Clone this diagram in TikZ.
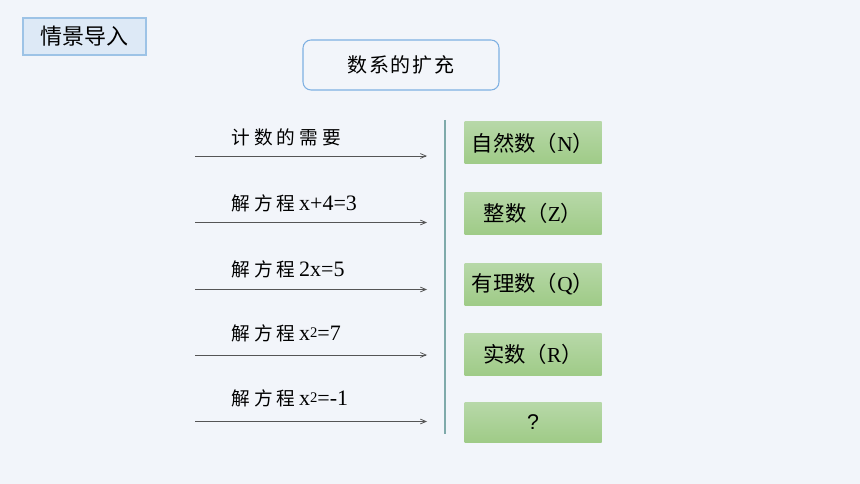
\documentclass[tikz,border=0pt]{standalone}
\usepackage{fontspec}
\setmainfont{Liberation Serif}
\newfontfamily\cjk{Noto Sans CJK SC}
\newfontfamily\cjkwide[LetterSpace=22]{Noto Sans CJK SC}
\newfontfamily\cjktopic[LetterSpace=8]{Noto Sans CJK SC}
\newfontfamily\qfont{Liberation Sans}
\definecolor{paper}{HTML}{F2F5FA}
\definecolor{titlefill}{HTML}{DDE9F6}
\definecolor{titleline}{HTML}{9DC3E6}
\definecolor{headline}{HTML}{7EB0E2}
\definecolor{greentop}{HTML}{B7D8A8}
\definecolor{greenbot}{HTML}{9FCB87}
\definecolor{divider}{HTML}{7FAAAA}
\definecolor{arrowgrey}{HTML}{555555}
\usepackage{tikz}
\usetikzlibrary{arrows}
\usetikzlibrary{positioning}
\tikzstyle{base}=[x=0.75pt, y=-0.75pt]
\tikzstyle{need}=[anchor=west, inner sep=0pt, font=\fontsize{16.5}{18}\selectfont]
\tikzstyle{reason}=[arrowgrey, line width=0.6pt, ->, >=angle 45]
\tikzstyle{numset}=[inner sep=0pt, minimum width=102.75pt, minimum height=31.5pt,
    top color=greentop, bottom color=greenbot, font=\fontsize{16}{18}\selectfont]
\newcommand*{\solve}{{\fontsize{14}{16}\cjkwide 解方程}}
\newcommand*{\sq}{\raisebox{0.25ex}{\fontsize{11}{12}\selectfont 2}}

\begin{document}
\begin{tikzpicture}[base]
    \fill [paper] (0,0) rectangle (860,484);
    \useasboundingbox (0,0) rectangle (860,484);
    % headings
    \node (title) [draw=titleline, fill=titlefill, line width=0.8pt, inner sep=0pt,
        minimum width=92.25pt, minimum height=27.75pt,
        font=\fontsize{16.5}{18}\selectfont] at (84.5,36.5) {\cjk 情景导入};
    \node (topic) [draw=headline, line width=0.8pt, rounded corners=6pt, inner sep=0pt,
        minimum width=147pt, minimum height=37.5pt,
        font=\fontsize{15}{17}\selectfont] at (401,65) {\cjktopic 数系的扩充};
    % reasons
    \coordinate (s1) at (195,156);   \coordinate (e1) at (427,156);
    \coordinate (s2) at (195,222.5); \coordinate (e2) at (427,222.5);
    \coordinate (s3) at (195,289.5); \coordinate (e3) at (427,289.5);
    \coordinate (s4) at (195,355);   \coordinate (e4) at (427,355);
    \coordinate (s5) at (195,421.5); \coordinate (e5) at (427,421.5);
    \draw [reason] (s1) -- (e1);
    \draw [reason] (s2) -- (e2);
    \draw [reason] (s3) -- (e3);
    \draw [reason] (s4) -- (e4);
    \draw [reason] (s5) -- (e5);
    \node (count) [need] at (231,137) {\fontsize{14}{16}\cjkwide 计数的需要};
    \node (eqa) [need] at (231,203) {\solve\,x+4=3};
    \node (eqb) [need] at (231,269) {\solve\,2x=5};
    \node (eqc) [need] at (231,333) {\solve\,x\sq=7};
    \node (eqd) [need] at (231,398) {\solve\,x\sq=-1};
    \draw [divider, line width=1.4pt] (445,120) -- (445,434);
    % number sets
    \node (nat) [numset] at (533,143) {{\cjk 自然数（}N{\cjk ）}};
    \node (int) [numset, below=21pt of nat] {{\cjk 整数（}Z{\cjk ）}};
    \node (rat) [numset, below=21pt of int] {{\cjk 有理数（}Q{\cjk ）}};
    \node (real) [numset, below=21pt of rat] {{\cjk 实数（}R{\cjk ）}};
    \node (unknown) [numset, minimum height=29.5pt, below=20pt of real] {\qfont ?};
\end{tikzpicture}
\end{document}
